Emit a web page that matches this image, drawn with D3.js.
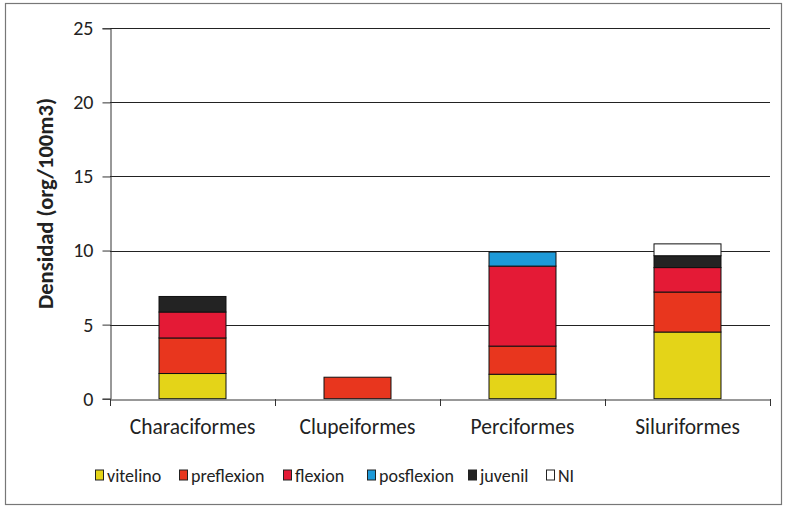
<!DOCTYPE html>
<html>
<head>
<meta charset="utf-8">
<script src="https://cdn.jsdelivr.net/npm/d3@7"></script>
<style>
  html, body { margin: 0; padding: 0; background: #fff; }
  svg { display: block; font-family: Carlito, Calibri, Lato, sans-serif; }
</style>
</head>
<body>
<svg id="chart" width="785" height="508"></svg>
<script>
// Larval stage density by fish order
const categories = ["Characiformes", "Clupeiformes", "Perciformes", "Siluriformes"];
const stages = ["vitelino", "preflexion", "flexion", "posflexion", "juvenil", "NI"];
const vitelino   = [1.7, 0,    1.65, 4.5];
const preflexion = [2.4, 1.45, 1.9,  2.7];
const flexion    = [1.75, 0,   5.4,  1.65];
const posflexion = [0,   0,    0.95, 0];
const juvenil    = [1.05, 0,   0,    0.8];
const NI         = [0,   0,    0,    0.8];
const yTicks = [0, 5, 10, 15, 20, 25];
const yTitle = "Densidad (org/100m3)";

const colors = {
  vitelino: "#e4d418",
  preflexion: "#e8361e",
  flexion: "#e41a36",
  posflexion: "#1e9ad8",
  juvenil: "#232323",
  NI: "#ffffff"
};

const seriesValues = { vitelino, preflexion, flexion, posflexion, juvenil, NI };
const rows = categories.map((c, i) => {
  const r = { category: c };
  stages.forEach(s => r[s] = seriesValues[s][i]);
  return r;
});

const svg = d3.select("#chart");
const FONT = "Carlito, Calibri, Lato, sans-serif";

// outer frame
svg.append("rect")
  .attr("x", 5.5).attr("y", 3.5).attr("width", 776).attr("height", 501)
  .attr("fill", "none").attr("stroke", "#777").attr("stroke-width", 1.2);

const plotLeft = 110, plotRight = 770, plotTop = 28.3, plotBottom = 398.7;

const x = d3.scaleBand().domain(categories).range([plotLeft, plotRight]).padding(0);
const y = d3.scaleLinear().domain([0, 25]).range([plotBottom, plotTop]);

// gridlines
svg.append("g")
  .selectAll("line")
  .data(yTicks.filter(t => t > 0))
  .join("line")
  .attr("x1", plotLeft).attr("x2", plotRight)
  .attr("y1", d => Math.round(y(d)) + 0.5).attr("y2", d => Math.round(y(d)) + 0.5)
  .attr("stroke", "#222").attr("stroke-width", 1);

// stacked bars
const stack = d3.stack().keys(stages)(rows);
const barW = x.bandwidth() * 0.406;

svg.append("g")
  .selectAll("g")
  .data(stack)
  .join("g")
  .attr("fill", d => colors[d.key])
  .selectAll("rect")
  .data(d => d.filter(p => p[1] - p[0] > 0))
  .join("rect")
  .attr("x", d => x(d.data.category) + (x.bandwidth() - barW) / 2)
  .attr("width", barW)
  .attr("y", d => y(d[1]))
  .attr("height", d => y(d[0]) - y(d[1]))
  .attr("stroke", "#111")
  .attr("stroke-width", 1);

// y axis
const yAxis = d3.axisLeft(y).tickValues(yTicks).tickSize(8).tickPadding(9);
const gy = svg.append("g").attr("transform", `translate(${plotLeft + 0.5},0)`).call(yAxis);
gy.select(".domain").attr("stroke", "#333");
gy.selectAll(".tick line").attr("stroke", "#333");
gy.selectAll(".tick text").attr("font-size", 20).attr("fill", "#222")
  .style("font-family", FONT);

// x axis
const xAxis = d3.axisBottom(x).tickSize(0).tickPadding(19);
const gx = svg.append("g").attr("transform", `translate(0,${Math.round(plotBottom) + 0.5})`).call(xAxis);
gx.select(".domain").attr("stroke", "#333");
gx.selectAll(".tick text").attr("font-size", 21.5).attr("fill", "#222")
  .style("font-family", FONT);
// category separators below the baseline
svg.append("g")
  .selectAll("line")
  .data(d3.range(categories.length + 1))
  .join("line")
  .attr("x1", i => Math.round(plotLeft + i * x.step()) + 0.5)
  .attr("x2", i => Math.round(plotLeft + i * x.step()) + 0.5)
  .attr("y1", Math.round(plotBottom)).attr("y2", Math.round(plotBottom) + 7)
  .attr("stroke", "#333");

// y title
svg.append("text")
  .attr("transform", `translate(53,${(plotTop + plotBottom) / 2 - 10}) rotate(-90)`)
  .attr("text-anchor", "middle")
  .attr("font-size", 22.5).attr("font-weight", "bold").attr("fill", "#222")
  .text(yTitle);

// legend: item offsets along the row
const legendOffsets = [0, 84, 188, 272, 373, 451];
const legend = svg.append("g").attr("transform", "translate(95,475)");
stages.forEach((s, i) => {
  const g = legend.append("g").attr("transform", `translate(${legendOffsets[i]},0)`);
  g.append("rect").attr("x", 0.5).attr("y", -5).attr("width", 8).attr("height", 10)
    .attr("fill", colors[s]).attr("stroke", "#222").attr("stroke-width", 1);
  g.append("text").attr("x", 12).attr("y", 7)
    .attr("font-size", 18).attr("fill", "#222").text(s);
});
</script>
</body>
</html>
